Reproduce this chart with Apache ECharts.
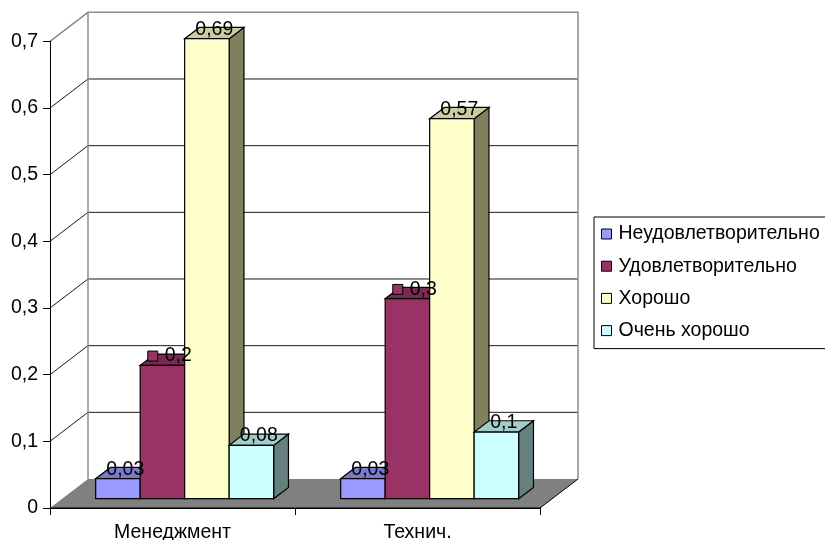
<!DOCTYPE html>
<html>
<head>
<meta charset="utf-8">
<script src="https://cdn.jsdelivr.net/npm/echarts@6/dist/echarts.min.js"></script>
<style>
  html, body { margin: 0; padding: 0; background: #fff; }
  #chart { width: 825px; height: 540px; }
</style>
</head>
<body>
<div id="chart"></div>
<script>
// Share of grades per discipline group
const categories = ['Менеджмент', 'Технич.'];
const seriesNames = ['Неудовлетворительно', 'Удовлетворительно', 'Хорошо', 'Очень хорошо'];
const unsatisfactory = [0.03, 0.03];
const satisfactory = [0.2, 0.3];
const good = [0.69, 0.57];
const excellent = [0.08, 0.1];
const seriesValues = [unsatisfactory, satisfactory, good, excellent];

// Face colours: front / top / right side
const frontColors = ['#9999FF', '#993366', '#FFFFCC', '#CCFFFF'];
const topColors   = ['#7A7ACC', '#7A2952', '#CCCCA3', '#A3CCCC'];
const sideColors  = ['#4D4D80', '#4D1A33', '#80805F', '#668080'];

const FONT = '"Liberation Sans", Arial, sans-serif';
const FONT_SIZE = 19.5;

// Oblique projection of the plot box depth
const DX = 38, DY = -29;
// Bars occupy this slice of the depth
const FRONT = 0.32, BACK = 0.71;
// Bar width as a fraction of the category band
const BAR_W = 0.1816;

const measureCtx = document.createElement('canvas').getContext('2d');
measureCtx.font = FONT_SIZE + 'px ' + FONT;

function fmt(v) {
  return String(v).replace('.', ',');
}

function frameRenderer(params, api) {
  const cs = params.coordSys;
  const gx = cs.x, gw = cs.width;
  const y0 = api.coord([0, 0])[1];
  const children = [];
  // floor
  children.push({
    type: 'polygon',
    shape: { points: [[gx, y0], [gx + gw, y0], [gx + gw + DX, y0 + DY], [gx + DX, y0 + DY]] },
    style: { fill: '#808080', stroke: null }
  });
  children.push({
    type: 'polyline',
    shape: { points: [[gx, y0], [gx + gw, y0], [gx + gw + DX, y0 + DY]] },
    style: { stroke: '#000', lineWidth: 1, fill: null }
  });
  const ticks = [0.1, 0.2, 0.3, 0.4, 0.5, 0.6];
  ticks.forEach(function (v) {
    const y = api.coord([0, v])[1];
    children.push({
      type: 'polyline',
      shape: { points: [[gx, y], [gx + DX, y + DY], [gx + gw + DX, y + DY]] },
      style: { stroke: '#1a1a1a', lineWidth: 1, fill: null }
    });
  });
  const yTop = api.coord([0, 0.7])[1];
  children.push({
    type: 'polyline',
    shape: { points: [[gx, yTop], [gx + DX, yTop + DY], [gx + gw + DX, yTop + DY], [gx + gw + DX, y0 + DY]] },
    style: { stroke: '#8c8c8c', lineWidth: 1.5, fill: null }
  });
  children.push({
    type: 'line',
    shape: { x1: gx + DX, y1: yTop + DY, x2: gx + DX, y2: y0 + DY },
    style: { stroke: '#8c8c8c', lineWidth: 1.5 }
  });
  return { type: 'group', children: children };
}

function makeBarRenderer(s) {
  return function (params, api) {
    const cat = api.value(0), val = api.value(1);
    const base = api.coord([cat, 0]);
    const topPt = api.coord([cat, val]);
    const band = api.size([1, 0])[0];
    const w = band * BAR_W;
    const x0 = base[0] + (s - 2) * w + FRONT * DX;
    const yb = base[1] + FRONT * DY;
    const yt = topPt[1] + FRONT * DY;
    const ddx = (BACK - FRONT) * DX, ddy = (BACK - FRONT) * DY;
    const edge = { stroke: '#000', lineWidth: 1.2 };
    const children = [
      {
        type: 'polygon',
        shape: { points: [[x0 + w, yt], [x0 + w + ddx, yt + ddy], [x0 + w + ddx, yb + ddy], [x0 + w, yb]] },
        style: Object.assign({ fill: sideColors[s] }, edge)
      },
      {
        type: 'polygon',
        shape: { points: [[x0, yt], [x0 + w, yt], [x0 + w + ddx, yt + ddy], [x0 + ddx, yt + ddy]] },
        style: Object.assign({ fill: topColors[s] }, edge)
      },
      {
        type: 'rect',
        shape: { x: x0, y: yt, width: w, height: yb - yt },
        style: Object.assign({ fill: frontColors[s] }, edge)
      }
    ];
    // value label centred on the top face, near its back edge
    const cx = x0 + w / 2 + ddx / 2;
    const ly = yt + ddy + 2;
    const text = fmt(val);
    if (s === 1) {
      const tw = measureCtx.measureText(text).width;
      const key = 10, gap = 7;
      const left = cx - (key + gap + tw) / 2;
      children.push({
        type: 'rect',
        shape: { x: left, y: ly - key / 2, width: key, height: key },
        style: { fill: frontColors[s], stroke: '#000', lineWidth: 1 },
        z2: 100
      });
      children.push({
        type: 'text',
        x: left + key + gap, y: ly,
        style: { text: text, fill: '#000', font: FONT_SIZE + 'px ' + FONT, align: 'left', verticalAlign: 'middle' },
        z2: 100
      });
    } else {
      children.push({
        type: 'text',
        x: cx, y: ly,
        style: { text: text, fill: '#000', font: FONT_SIZE + 'px ' + FONT, align: 'center', verticalAlign: 'middle' },
        z2: 100
      });
    }
    return { type: 'group', children: children };
  };
}

const chart = echarts.init(document.getElementById('chart'), null, { renderer: 'canvas' });

const series = [{
  name: 'frame',
  type: 'custom',
  z: 1,
  silent: true,
  renderItem: frameRenderer,
  data: [[0, 0]],
  encode: { x: 0, y: 1 }
}];
seriesValues.forEach(function (vals, s) {
  series.push({
    name: seriesNames[s],
    type: 'custom',
    z: 2,
    itemStyle: { color: frontColors[s], borderColor: '#000', borderWidth: 1 },
    renderItem: makeBarRenderer(s),
    data: vals.map(function (v, i) { return [i, v]; }),
    encode: { x: 0, y: 1 }
  });
});

chart.setOption({
  animation: false,
  backgroundColor: '#fff',
  textStyle: { fontFamily: FONT },
  grid: { left: 50, right: 285, top: 41.33, bottom: 32, containLabel: false, outerBoundsMode: 'none' },
  legend: {
    data: seriesNames,
    orient: 'vertical',
    left: 594,
    top: 217,
    padding: [7, 20, 8, 7],
    itemWidth: 10,
    itemHeight: 10,
    itemGap: 12.2,
    icon: 'rect',
    selectedMode: false,
    borderColor: '#000',
    borderWidth: 1,
    itemStyle: { borderColor: '#000', borderWidth: 1 },
    textStyle: { fontSize: FONT_SIZE, lineHeight: 19.5, color: '#000', fontFamily: FONT, padding: [0, 0, 0, 2] }
  },
  xAxis: {
    type: 'category',
    data: categories,
    z: 10,
    axisLine: { show: true, lineStyle: { color: '#000', width: 1 } },
    axisTick: { show: true, length: 7, lineStyle: { color: '#000' } },
    axisLabel: { fontSize: FONT_SIZE, color: '#000', margin: 15, fontFamily: FONT },
    splitLine: { show: false }
  },
  yAxis: {
    type: 'value',
    min: 0,
    max: 0.7,
    interval: 0.1,
    z: 10,
    axisLine: { show: true, lineStyle: { color: '#000', width: 1 } },
    axisTick: { show: true, length: 7, lineStyle: { color: '#000' } },
    axisLabel: {
      fontSize: FONT_SIZE, color: '#000', margin: 12, fontFamily: FONT,
      formatter: function (v) { return v === 0 ? '0' : v.toFixed(1).replace('.', ','); }
    },
    splitLine: { show: false }
  },
  series: series
});
</script>
</body>
</html>
